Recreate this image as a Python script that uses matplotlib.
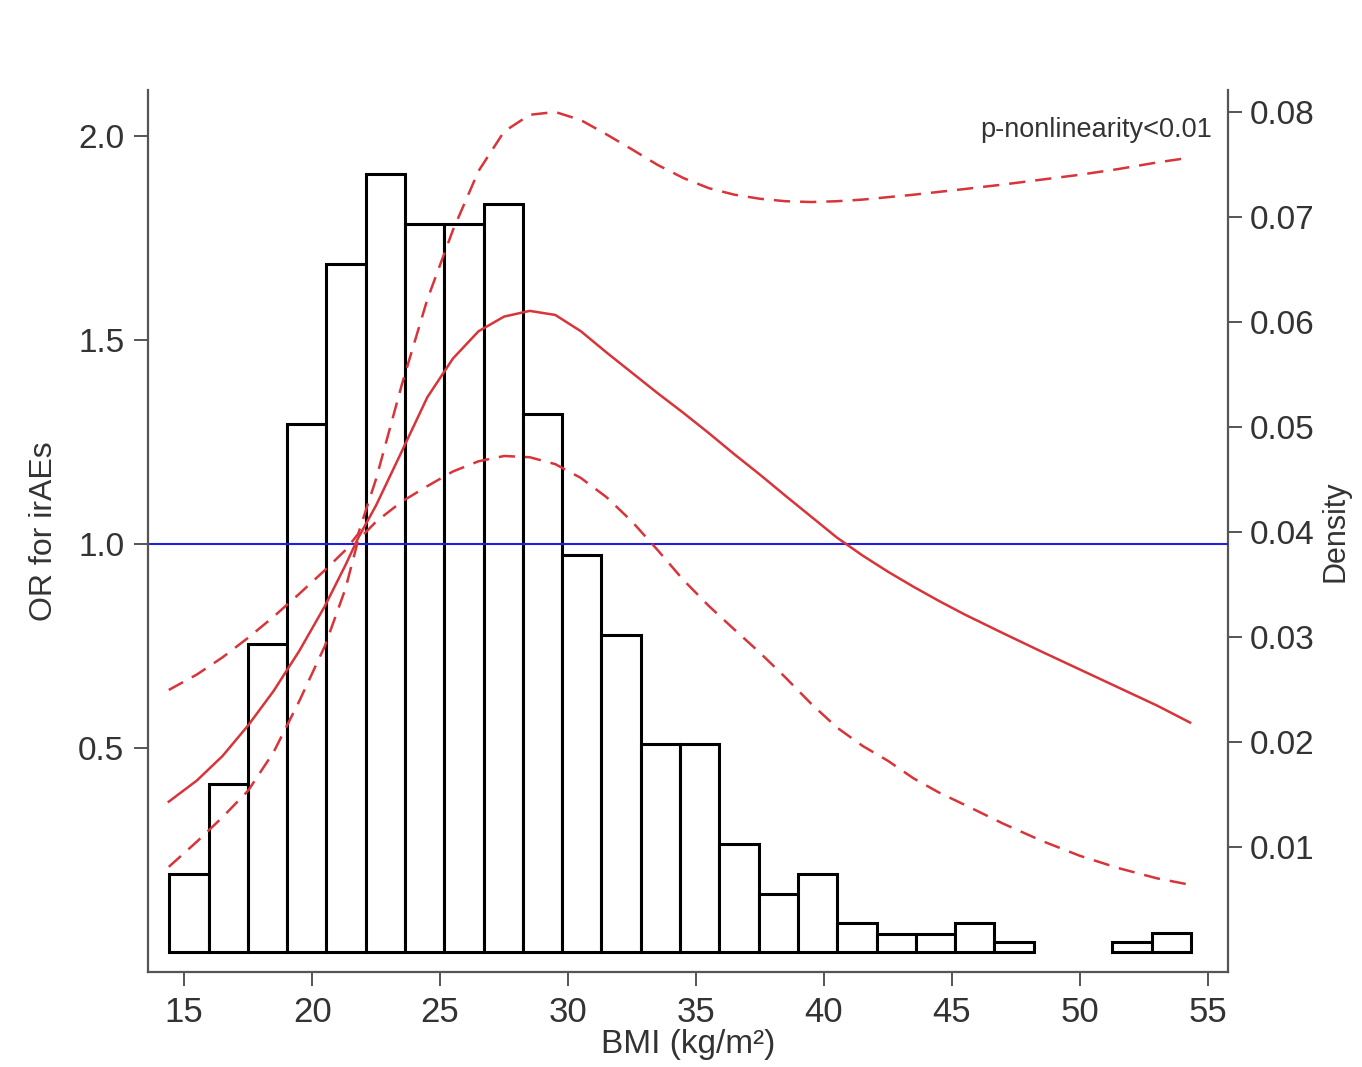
import matplotlib
matplotlib.use("Agg")
import matplotlib.pyplot as plt
import numpy as np

plt.rcParams['font.family'] = ['Liberation Sans', 'DejaVu Sans']

# histogram of BMI (density per bin)
bin_start = 14.42
bin_width = 1.535
density = [0.0074, 0.0160, 0.0293, 0.0503, 0.0655, 0.0741, 0.0693, 0.0693,
           0.0712, 0.0512, 0.0378, 0.0302, 0.0198, 0.0198, 0.0103, 0.0055,
           0.0074, 0.0027, 0.0017, 0.0017, 0.0027, 0.0009, 0.0, 0.0,
           0.0009, 0.0018]

# restricted cubic spline: OR and 95% CI
bmi_fit = [14.4, 15.5, 16.5, 17.5, 18.5, 19.5, 20.5, 21.3, 21.8, 22.5,
           23.5, 24.5, 25.5, 26.5, 27.5, 28.5, 29.5, 30.5, 31.5, 32.5,
           33.5, 34.5, 35.5, 36.5, 37.5, 38.5, 39.5, 40.5, 41.5, 42.5,
           43.5, 44.5, 45.5, 47, 48.5, 50, 51.5, 53, 54.3]
or_fit = [0.368, 0.42, 0.48, 0.555, 0.64, 0.738, 0.848, 0.948, 1.015, 1.095,
          1.227, 1.36, 1.455, 1.522, 1.558, 1.572, 1.562, 1.522, 1.47, 1.42,
          1.37, 1.322, 1.272, 1.22, 1.17, 1.118, 1.067, 1.016, 0.972, 0.932,
          0.895, 0.86, 0.827, 0.781, 0.736, 0.692, 0.648, 0.604, 0.562]
or_upper = [0.642, 0.68, 0.722, 0.77, 0.822, 0.878, 0.936, 0.985, 1.025,
            1.16, 1.39, 1.60, 1.77, 1.915, 2.012, 2.053, 2.06, 2.04, 2.005,
            1.968, 1.93, 1.898, 1.873, 1.857, 1.847, 1.841, 1.839, 1.841,
            1.845, 1.851, 1.857, 1.864, 1.871, 1.882, 1.894, 1.906, 1.92,
            1.936, 1.948]
or_lower = [0.208, 0.27, 0.33, 0.395, 0.49, 0.615, 0.75, 0.89, 1.01, 1.055,
            1.104, 1.142, 1.178, 1.203, 1.216, 1.213, 1.196, 1.162, 1.115,
            1.055, 0.985, 0.912, 0.848, 0.79, 0.733, 0.672, 0.608, 0.55,
            0.505, 0.468, 0.425, 0.39, 0.36, 0.314, 0.272, 0.235, 0.205,
            0.18, 0.164]

x_ticks = [15, 20, 25, 30, 35, 40, 45, 50, 55]
or_ticks = [0.5, 1.0, 1.5, 2.0]
dens_ticks = [0.01, 0.02, 0.03, 0.04, 0.05, 0.06, 0.07, 0.08]

red = '#d8343a'
spine_col = '#555555'
text_col = '#333333'

fig = plt.figure(figsize=(13.62, 10.67), dpi=100)
ax = fig.add_axes([0.1087, 0.0890, 0.7929, 0.8267])
axd = ax.twinx()
ax.set_zorder(axd.get_zorder() + 1)
ax.patch.set_visible(False)

# histogram on the density axis
dens = np.array(density)
edges = bin_start + bin_width * np.arange(len(dens))
keep = dens > 0
axd.bar(edges[keep], dens[keep], width=bin_width, align='edge',
        facecolor='white', edgecolor='black', linewidth=2.2)

# OR curves
ax.axhline(1.0, color='#1f1fe0', linewidth=1.5)
ax.plot(bmi_fit, or_fit, color=red, linewidth=1.8)
ax.plot(bmi_fit, or_upper, color=red, linewidth=1.8, dashes=(6.5, 4))
ax.plot(bmi_fit, or_lower, color=red, linewidth=1.8, dashes=(6.5, 4))

ax.set_xlim(13.59, 55.78)
ax.set_ylim(-0.05, 2.114)
axd.set_ylim(-0.00193, 0.0821)

ax.set_xticks(x_ticks)
ax.set_xticklabels([str(v) for v in x_ticks], fontsize=25, color=text_col)
ax.set_yticks(or_ticks)
ax.set_yticklabels(['%.1f' % v for v in or_ticks], fontsize=24, color=text_col)
axd.set_yticks(dens_ticks)
axd.set_yticklabels(['%.2f' % v for v in dens_ticks], fontsize=24,
                    color=text_col)

ax.tick_params(axis='both', direction='out', length=10, width=1.4,
               color=spine_col, pad=7)
axd.tick_params(axis='y', direction='out', length=10, width=1.4,
                color=spine_col, pad=6)

for s in ['top', 'right']:
    ax.spines[s].set_visible(False)
for s in ['top', 'left', 'bottom']:
    axd.spines[s].set_visible(False)
for sp in [ax.spines['left'], ax.spines['bottom'], axd.spines['right']]:
    sp.set_color(spine_col)
    sp.set_linewidth(1.6)

ax.set_xlabel('BMI (kg/m²)', fontsize=24, color=text_col, labelpad=0)
ax.set_ylabel('OR for irAEs', fontsize=23, color=text_col, labelpad=14)
axd.set_ylabel('Density', fontsize=22, color=text_col, labelpad=4)

ax.text(0.985, 0.955, 'p-nonlinearity<0.01', transform=ax.transAxes,
        ha='right', va='center', fontsize=19.5, color=text_col)

fig.savefig('out.png', dpi=100)
